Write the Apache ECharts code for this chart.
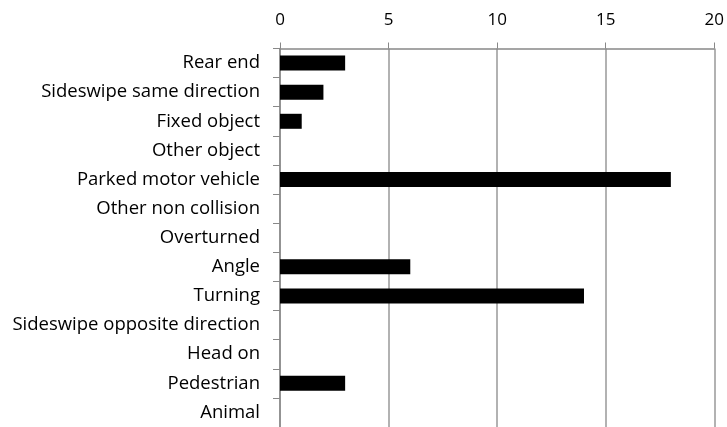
<!DOCTYPE html>
<html><head><meta charset="utf-8">
<script src="https://cdn.jsdelivr.net/npm/echarts@6/dist/echarts.min.js"></script>
<style>html,body{margin:0;padding:0;background:#fff}#c{width:727px;height:427px}</style>
</head><body><div id="c"></div>
<script>
const categories = ["Rear end","Sideswipe same direction","Fixed object","Other object","Parked motor vehicle","Other non collision","Overturned","Angle","Turning","Sideswipe opposite direction","Head on","Pedestrian","Animal"];
const values = [3,2,1,0,18,0,0,6,14,0,0,3,0];
const xTicks = [0,5,10,15,20];

const chart = echarts.init(document.getElementById('c'), null, {renderer:'canvas'});
chart.setOption({
  animation:false,
  backgroundColor:'#fff',
  grid:{left:280,right:9,top:48.5,bottom:-3.7,containLabel:false},
  xAxis:{type:'value',position:'top',min:xTicks[0],max:xTicks[xTicks.length-1],interval:5,
    axisLine:{show:true,lineStyle:{color:'#888',width:1.5}},
    axisTick:{show:true,length:6,lineStyle:{color:'#888'}},
    splitLine:{show:true,lineStyle:{color:'#999',width:1.5}},
    axisLabel:{color:'#000',fontFamily:'Open Sans',fontSize:17,margin:20}},
  yAxis:{type:'category',inverse:true,data:categories,
    axisLine:{show:true,lineStyle:{color:'#888',width:1.5}},
    axisTick:{show:true,length:7,lineStyle:{color:'#888'}},
    axisLabel:{color:'#000',fontFamily:'Open Sans',fontSize:18.5,margin:20}},
  series:[{type:'bar',data:values,barWidth:15,itemStyle:{color:'#000'}}]
});
</script></body></html>
